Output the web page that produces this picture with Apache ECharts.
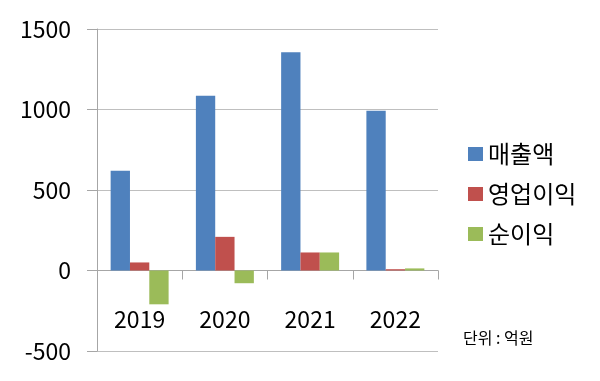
<!DOCTYPE html>
<html><head><meta charset="utf-8">
<script src="https://cdn.jsdelivr.net/npm/echarts@6/dist/echarts.min.js"></script>
<style>html,body{margin:0;padding:0;background:#fff}#c{width:600px;height:381px}</style>
</head><body><div id="c"></div>
<script>
var categories = ['2019','2020','2021','2022'];
var seriesNames = ['매출액','영업이익','순이익'];
var revenue = [620, 1085, 1356, 992];
var operatingProfit = [50, 209, 112, 8];
var netProfit = [-210, -79, 112, 13];
var colors = ['#4F81BD','#C0504D','#9BBB59'];
var FONT = '"Noto Sans CJK KR", "Noto Sans", sans-serif';
var chart = echarts.init(document.getElementById('c'), null, {renderer:'canvas'});
var vals = [revenue, operatingProfit, netProfit];
chart.setOption({
  animation:false,
  color: colors,
  grid:{left:97, right:162, top:29, bottom:30, containLabel:false, outerBoundsMode:'none'},
  legend:{
    orient:'vertical', left:463, top:137, icon:'rect', itemWidth:15, itemHeight:14, itemGap:16,
    textStyle:{fontFamily:FONT, fontSize:24, color:'#000', padding:[0,0,0,0]},
    data: seriesNames
  },
  graphic:[{type:'text', left:463, top:330, style:{text:'단위 : 억원', fontFamily:FONT, fontSize:16, fill:'#000'}}],
  xAxis:{
    type:'category', data:categories, boundaryGap:true,
    axisLine:{onZero:true, lineStyle:{color:'#A6A6A6', width:1}},
    axisTick:{show:true, length:9, lineStyle:{color:'#A6A6A6'}},
    axisLabel:{margin:-43, fontFamily:FONT, fontSize:23, color:'#000'}
  },
  yAxis:{
    type:'value', min:-500, max:1500, interval:500,
    axisLine:{show:true, lineStyle:{color:'#A6A6A6'}},
    axisTick:{show:true, length:10, lineStyle:{color:'#A6A6A6'}},
    splitLine:{show:true, lineStyle:{color:'#BFBFBF'}},
    axisLabel:{margin:26, fontFamily:FONT, fontSize:23, color:'#000', formatter:function(v){return String(v);}}
  },
  series: seriesNames.map(function(n,i){
    return {name:n, type:'bar', data:vals[i], barGap:'0%', barCategoryGap:'32%',
      itemStyle:{color:colors[i]}};
  })
});
</script></body></html>
